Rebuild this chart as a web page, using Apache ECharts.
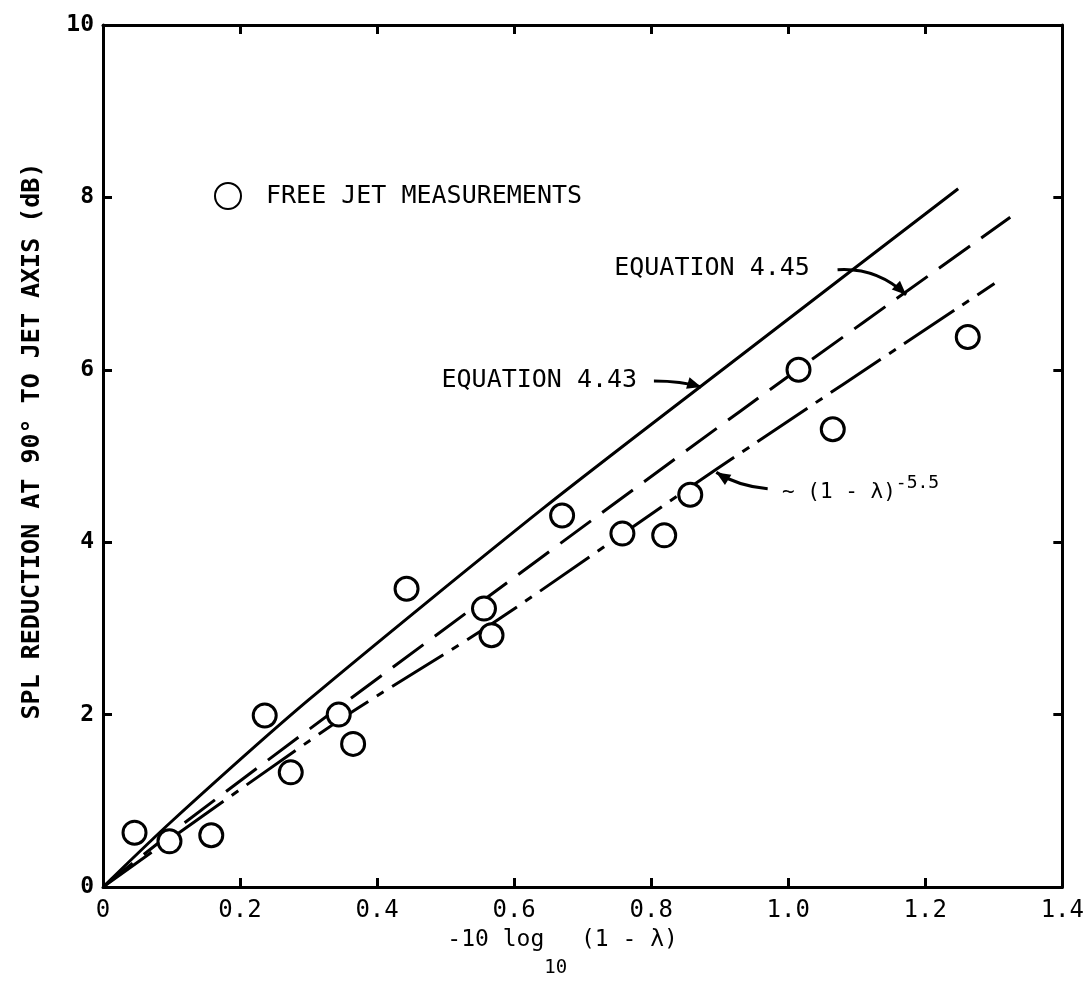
<!DOCTYPE html>
<html><head><meta charset="utf-8">
<script src="https://cdn.jsdelivr.net/npm/echarts@6/dist/echarts.min.js"></script>
<style>html,body{margin:0;padding:0;background:#fff}#c{width:1087px;height:985px}</style>
</head><body><div id="c"></div>
<script>
// ---- data ----
const measX = [0.046, 0.097, 0.158, 0.236, 0.274, 0.344, 0.365, 0.443, 0.556, 0.567, 0.670, 0.758, 0.819, 0.857, 1.015, 1.065, 1.262];
const measY = [0.63, 0.53, 0.60, 1.99, 1.33, 2.00, 1.66, 3.46, 3.23, 2.92, 4.31, 4.10, 4.08, 4.55, 6.00, 5.31, 6.38];

const eq443X = [0, 0.10, 0.30, 0.645, 0.93, 1.248];
const eq443Y = [0, 0.76, 2.17, 4.41, 6.16, 8.10];

const eq445X = [0, 0.10, 0.35, 0.93, 1.324];
const eq445Y = [0, 0.63, 2.12, 5.52, 7.77];

const powX = [0, 0.344, 0.567, 0.894, 1.301];
const powY = [0, 1.93, 3.05, 4.84, 7.00];

const xTickValues = [0, 0.2, 0.4, 0.6, 0.8, 1.0, 1.2, 1.4];
const yTickValues = [0, 2, 4, 6, 8, 10];

const seriesNames = ['FREE JET MEASUREMENTS', 'EQUATION 4.43', 'EQUATION 4.45', '~ (1 - λ)^-5.5'];
const xTitle = ['-10 log', '10', ' (1 - λ)'];
const yTitle = 'SPL REDUCTION AT 90° TO JET AXIS (dB)';

// annotation anchors in data coordinates
const noteEq445 = { text: 'EQUATION 4.45', at: [0.746, 7.17], arrow: [[1.072, 7.16], [1.129, 7.19], [1.172, 6.87]] };
const noteEq443 = { text: 'EQUATION 4.43', at: [0.494, 5.88], arrow: [[0.804, 5.87], [0.844, 5.87], [0.873, 5.80]] };
const notePow = { text: '~ (1 - λ)', sup: '-5.5', at: [0.991, 4.58], arrow: [[0.970, 4.62], [0.927, 4.65], [0.895, 4.81]] };

const zip = (xs, ys) => xs.map((x, i) => [x, ys[i]]);
const MONO = '"DejaVu Sans Mono", monospace';

const chart = echarts.init(document.getElementById('c'), null, { renderer: 'canvas' });

const axisLine = { show: true, onZero: false, lineStyle: { color: '#000', width: 3 } };
const axisTick = { show: true, inside: true, length: 9, lineStyle: { color: '#000', width: 3 } };

const option = {
  backgroundColor: '#fff',
  animation: false,
  grid: { left: 103, right: 14, top: 25, bottom: 98, containLabel: false },
  legend: {
    data: [seriesNames[0]],
    left: 209, top: 177,
    itemWidth: 66, itemHeight: 26,
    textStyle: { fontFamily: MONO, fontSize: 25, color: '#000' },
    selectedMode: false
  },
  xAxis: [{
    type: 'value', min: 0, max: 1.4, interval: 0.2, position: 'bottom',
    axisLine, axisTick, splitLine: { show: false },
    axisLabel: {
      margin: 12, color: '#000', fontFamily: MONO, fontSize: 24,
      formatter: v => (v === 0 ? '0' : v.toFixed(1))
    },
    name: '{a|' + xTitle[0] + '}{s|' + xTitle[1] + '}{a|' + xTitle[2] + '}',
    nameLocation: 'middle', nameGap: 16,
    nameTextStyle: {
      padding: [0, 40, 0, 0],
      rich: {
        a: { fontFamily: MONO, fontSize: 23, color: '#000' },
        s: { fontFamily: MONO, fontSize: 19, color: '#000', padding: [56, 0, 0, 0] }
      }
    }
  }, {
    type: 'value', min: 0, max: 1.4, interval: 0.2, position: 'top',
    axisLine, axisTick, splitLine: { show: false }, axisLabel: { show: false }
  }],
  yAxis: [{
    type: 'value', min: 0, max: 10, interval: 2, position: 'left',
    axisLine, axisTick, splitLine: { show: false },
    axisLabel: { margin: 9, color: '#000', fontFamily: MONO, fontWeight: 'bold', fontSize: 23 },
    name: yTitle, nameLocation: 'middle', nameGap: 58, nameRotate: 90,
    nameTextStyle: { fontFamily: MONO, fontWeight: 'bold', fontSize: 25, color: '#000', padding: [0, 0, 0, 30] }
  }, {
    type: 'value', min: 0, max: 10, interval: 2, position: 'right',
    axisLine, axisTick, splitLine: { show: false }, axisLabel: { show: false }
  }],
  series: [{
    name: seriesNames[1], type: 'line', data: zip(eq443X, eq443Y), smooth: 0.25,
    showSymbol: false, lineStyle: { color: '#000', width: 3 }, z: 2
  }, {
    name: seriesNames[2], type: 'line', data: zip(eq445X, eq445Y), smooth: 0.25,
    showSymbol: false, lineStyle: { color: '#000', width: 3, type: [38, 14] }, z: 2
  }, {
    name: seriesNames[3], type: 'line', data: zip(powX, powY), smooth: 0.25,
    showSymbol: false, lineStyle: { color: '#000', width: 3, type: [60, 10, 8, 10] }, z: 2
  }, {
    name: seriesNames[0], type: 'scatter', data: zip(measX, measY),
    symbol: 'circle', symbolSize: 23,
    itemStyle: { color: '#fff', borderColor: '#000', borderWidth: 3, opacity: 1 }, z: 5
  }]
};
chart.setOption(option);

const P = p => chart.convertToPixel({ xAxisIndex: 0, yAxisIndex: 0 }, p);
function arrowHead(tip, from, len, wid) {
  const dx = tip[0] - from[0], dy = tip[1] - from[1];
  const d = Math.hypot(dx, dy) || 1, ux = dx / d, uy = dy / d;
  const bx = tip[0] - ux * len, by = tip[1] - uy * len;
  return [[tip[0], tip[1]], [bx - uy * wid, by + ux * wid], [bx + uy * wid, by - ux * wid]];
}
function arrow(note) {
  const [s, c, t] = note.arrow.map(P);
  return [{
    type: 'bezierCurve', z: 10,
    shape: { x1: s[0], y1: s[1], cpx1: c[0], cpy1: c[1], x2: t[0], y2: t[1] },
    style: { stroke: '#000', lineWidth: 3, fill: null }
  }, {
    type: 'polygon', z: 10,
    shape: { points: arrowHead(t, c, 14, 6) },
    style: { fill: '#000' }
  }];
}
function label(note, rich) {
  const p = P(note.at);
  return {
    type: 'text', x: p[0], y: p[1], z: 10,
    style: rich || { text: note.text, font: '25px ' + MONO, fill: '#000', align: 'left', verticalAlign: 'middle' }
  };
}
const gfx = [
  label(noteEq445), ...arrow(noteEq445),
  label(noteEq443), ...arrow(noteEq443),
  label(notePow, {
    text: '{t|' + notePow.text + '}{u|' + notePow.sup + '}',
    align: 'left', verticalAlign: 'middle',
    rich: {
      t: { fontFamily: MONO, fontSize: 21, fill: '#000', color: '#000' },
      u: { fontFamily: MONO, fontSize: 18, fill: '#000', color: '#000', padding: [0, 0, 18, 0] }
    }
  }), ...arrow(notePow)
];
chart.setOption({ graphic: gfx });
</script>
</body></html>
